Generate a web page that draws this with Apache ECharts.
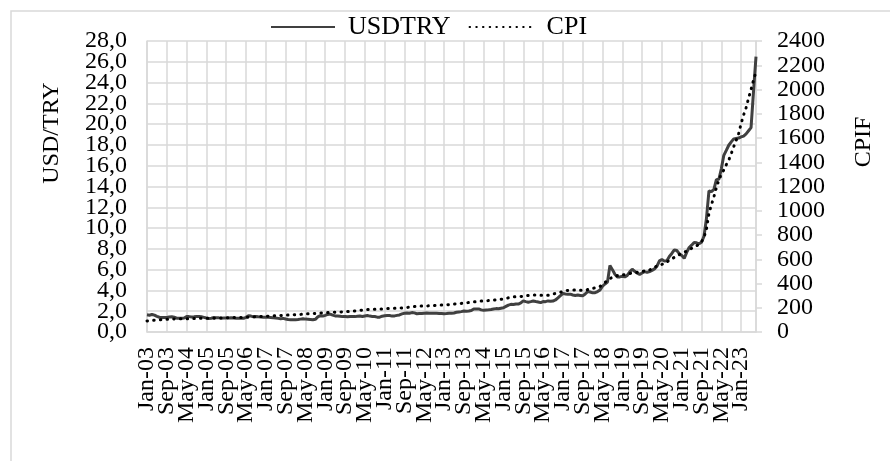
<!DOCTYPE html>
<html>
<head>
<meta charset="utf-8">
<script src="https://cdn.jsdelivr.net/npm/echarts@6/dist/echarts.min.js"></script>
<style>
  html, body { margin: 0; padding: 0; background: #fff; }
  #chart { width: 890px; height: 461px; }
</style>
</head>
<body>
<div id="chart"></div>
<script>
// monthly data, Jan-03 .. Jul-23
var monthNames = ['Jan', 'Feb', 'Mar', 'Apr', 'May', 'Jun', 'Jul', 'Aug', 'Sep', 'Oct', 'Nov', 'Dec'];
var firstYear = 2003;
var labelStep = 8; // a label every 8 months

var usdtry = [
    1.65, 1.61, 1.69, 1.62, 1.50, 1.42, 1.40, 1.39, 1.39, 1.44, 1.46, 1.42,
    1.33, 1.32, 1.32, 1.35, 1.48, 1.48, 1.45, 1.47, 1.50, 1.49, 1.46, 1.41,
    1.35, 1.30, 1.33, 1.39, 1.37, 1.36, 1.33, 1.34, 1.35, 1.35, 1.36, 1.35,
    1.33, 1.32, 1.33, 1.32, 1.41, 1.57, 1.53, 1.46, 1.50, 1.47, 1.45, 1.43,
    1.42, 1.41, 1.40, 1.36, 1.34, 1.31, 1.27, 1.31, 1.25, 1.20, 1.19, 1.17,
    1.18, 1.20, 1.24, 1.28, 1.24, 1.23, 1.20, 1.17, 1.22, 1.45, 1.57, 1.53,
    1.60, 1.69, 1.72, 1.62, 1.55, 1.54, 1.52, 1.48, 1.48, 1.46, 1.48, 1.49,
    1.48, 1.51, 1.53, 1.49, 1.54, 1.58, 1.53, 1.50, 1.49, 1.43, 1.43, 1.52,
    1.56, 1.59, 1.58, 1.53, 1.55, 1.60, 1.64, 1.74, 1.80, 1.82, 1.80, 1.87,
    1.84, 1.76, 1.78, 1.79, 1.81, 1.82, 1.81, 1.80, 1.80, 1.80, 1.79, 1.78,
    1.76, 1.77, 1.80, 1.80, 1.83, 1.90, 1.93, 1.96, 2.02, 1.99, 2.02, 2.07,
    2.22, 2.22, 2.22, 2.13, 2.09, 2.11, 2.13, 2.16, 2.21, 2.25, 2.23, 2.29,
    2.33, 2.46, 2.59, 2.66, 2.64, 2.70, 2.69, 2.80, 3.00, 2.92, 2.87, 2.92,
    2.98, 2.93, 2.89, 2.83, 2.93, 2.92, 2.99, 2.95, 2.98, 3.08, 3.28, 3.49,
    3.72, 3.66, 3.64, 3.64, 3.56, 3.52, 3.56, 3.52, 3.48, 3.66, 3.89, 3.85,
    3.77, 3.78, 3.89, 4.05, 4.40, 4.62, 4.80, 6.40, 6.00, 5.55, 5.30, 5.30,
    5.36, 5.30, 5.45, 5.79, 6.04, 5.84, 5.66, 5.55, 5.68, 5.81, 5.74, 5.82,
    5.93, 6.07, 6.33, 6.84, 6.98, 6.82, 6.86, 7.27, 7.56, 7.90, 7.84, 7.54,
    7.37, 7.08, 7.66, 8.13, 8.35, 8.61, 8.58, 8.48, 8.64, 9.22, 10.96, 13.57,
    13.51, 13.73, 14.66, 14.70, 15.70, 17.00, 17.47, 17.97, 18.29, 18.58, 18.62, 18.66,
    18.77, 18.85, 19.06, 19.36, 19.66, 23.16, 26.50
];

var cpi = [
    91, 93, 95, 97, 99, 100, 102, 104, 106, 106, 107, 108,
    108, 109, 109, 110, 110, 110, 111, 111, 112, 112, 113, 113,
    113, 113, 114, 114, 115, 115, 116, 116, 117, 118, 118, 119,
    119, 119, 120, 120, 121, 123, 124, 125, 126, 127, 128, 129,
    130, 131, 132, 133, 134, 135, 136, 137, 139, 140, 141, 142,
    143, 144, 145, 147, 149, 150, 151, 152, 153, 155, 157, 158,
    159, 160, 161, 162, 163, 164, 165, 166, 167, 168, 170, 171,
    174, 177, 179, 181, 183, 185, 186, 186, 187, 189, 190, 190,
    192, 193, 194, 195, 195, 196, 197, 198, 199, 202, 205, 207,
    210, 212, 213, 214, 215, 215, 216, 217, 218, 220, 221, 222,
    223, 224, 226, 228, 230, 232, 234, 236, 238, 241, 243, 245,
    248, 250, 253, 255, 257, 258, 259, 261, 263, 266, 268, 270,
    273, 277, 282, 286, 289, 291, 292, 293, 295, 298, 301, 303,
    305, 305, 304, 303, 302, 301, 303, 307, 312, 318, 323, 328,
    335, 341, 343, 344, 345, 346, 345, 344, 343, 345, 350, 355,
    360, 364, 370, 376, 390, 408, 429, 440, 452, 460, 465, 468,
    470, 474, 478, 482, 486, 489, 492, 497, 500, 503, 507, 512,
    520, 530, 547, 552, 558, 565, 575, 594, 605, 615, 625, 638,
    649, 658, 667, 675, 690, 700, 710, 725, 745, 780, 850, 979,
    1050, 1115, 1190, 1253, 1300, 1336, 1380, 1418, 1470, 1528, 1580, 1638,
    1720, 1790, 1850, 1929, 2000, 2077, 2146
];

// category labels like "Jan-03"
var months = [];
for (var i = 0; i < usdtry.length; i++) {
    var yy = (firstYear + Math.floor(i / 12)) % 100;
    months.push(monthNames[i % 12] + '-' + (yy < 10 ? '0' + yy : yy));
}

var font = 'Liberation Serif, Times New Roman, serif';
var gridColor = '#d9d9d9';

function fmtLeft(v) {
    return v.toFixed(1).replace('.', ',');
}

var dom = document.getElementById('chart');
var myChart = echarts.init(dom, null, { renderer: 'canvas' });

var option = {
    animation: false,
    textStyle: { fontFamily: font, color: '#000' },
    graphic: [
        {
            type: 'rect',
            shape: { x: 11, y: 11, width: 900, height: 480 },
            style: { fill: 'none', stroke: gridColor, lineWidth: 1.5 },
            silent: true
        },
        {
            type: 'text',
            x: 52, y: 133,
            rotation: Math.PI / 2,
            style: { text: 'USD/TRY', font: '24px ' + font, fill: '#000', align: 'center', verticalAlign: 'middle' }
        },
        {
            type: 'text',
            x: 864, y: 142,
            rotation: Math.PI / 2,
            style: { text: 'CPIF', font: '24px ' + font, fill: '#000', align: 'center', verticalAlign: 'middle' }
        }
    ],
    legend: {
        left: 270,
        top: 14,
        padding: 0,
        itemWidth: 64,
        itemHeight: 14,
        itemGap: 18,
        itemStyle: { opacity: 0 },
        textStyle: { fontSize: 26, fontFamily: font, color: '#000', padding: [0, 0, 0, 8] },
        data: ['USDTRY', 'CPI']
    },
    grid: { left: 147, right: 134, top: 41, bottom: 129 },
    xAxis: {
        type: 'category',
        boundaryGap: false,
        data: months,
        axisLine: { lineStyle: { color: gridColor, width: 1.5 } },
        axisTick: { show: false },
        axisLabel: {
            interval: 0, rotate: 90, fontSize: 24, fontFamily: font, color: '#000', margin: 15,
            hideOverlap: false,
            formatter: function (v, idx) { return idx % labelStep === 0 ? v : ''; }
        },
        splitLine: { show: true, interval: labelStep - 1, lineStyle: { color: gridColor, width: 1.5 } }
    },
    yAxis: [
        {
            // left axis, labels 0,0 / 4,0 / 8,0 ...
            type: 'value',
            position: 'left',
            min: 0, max: 28, interval: 2,
            axisLine: { show: true, lineStyle: { color: gridColor, width: 1.5 } },
            axisTick: { show: false },
            axisLabel: {
                fontSize: 24, fontFamily: font, color: '#000', margin: 20,
                hideOverlap: false, showMinLabel: true, showMaxLabel: true,
                formatter: function (v) { return Math.round(v) % 4 === 0 ? fmtLeft(v) : ''; }
            },
            splitLine: { show: true, lineStyle: { color: gridColor, width: 1.5 } }
        },
        {
            type: 'value',
            position: 'right',
            min: 0, max: 2400, interval: 200,
            axisLine: { show: true, lineStyle: { color: gridColor, width: 1.5 } },
            axisTick: { show: true, length: 6, lineStyle: { color: gridColor, width: 1.5 } },
            axisLabel: {
                fontSize: 24, fontFamily: font, color: '#000', margin: 21,
                hideOverlap: false, showMinLabel: true, showMaxLabel: true,
                formatter: function (v) { return String(v); }
            },
            splitLine: { show: false }
        },
        {
            // left axis again, labels 2,0 / 6,0 / 10,0 ...
            type: 'value',
            position: 'left',
            min: 0, max: 28, interval: 2,
            axisLine: { show: false },
            axisTick: { show: false },
            axisLabel: {
                fontSize: 24, fontFamily: font, color: '#000', margin: 20,
                hideOverlap: false, showMinLabel: false, showMaxLabel: false,
                formatter: function (v) { return Math.round(v) % 4 === 2 ? fmtLeft(v) : ''; }
            },
            splitLine: { show: false }
        }
    ],
    series: [
        {
            name: 'USDTRY',
            type: 'line',
            yAxisIndex: 0,
            data: usdtry,
            symbol: 'none',
            color: '#404040',
            lineStyle: { color: '#404040', width: 3 }
        },
        {
            name: 'CPI',
            type: 'line',
            yAxisIndex: 1,
            data: cpi,
            symbol: 'none',
            color: '#000',
            lineStyle: { color: '#000', width: 3, type: [0.5, 6.2], cap: 'round' }
        }
    ]
};

if (option && typeof option === 'object') {
    myChart.setOption(option);
}
window.addEventListener('resize', myChart.resize);
</script>
</body>
</html>
